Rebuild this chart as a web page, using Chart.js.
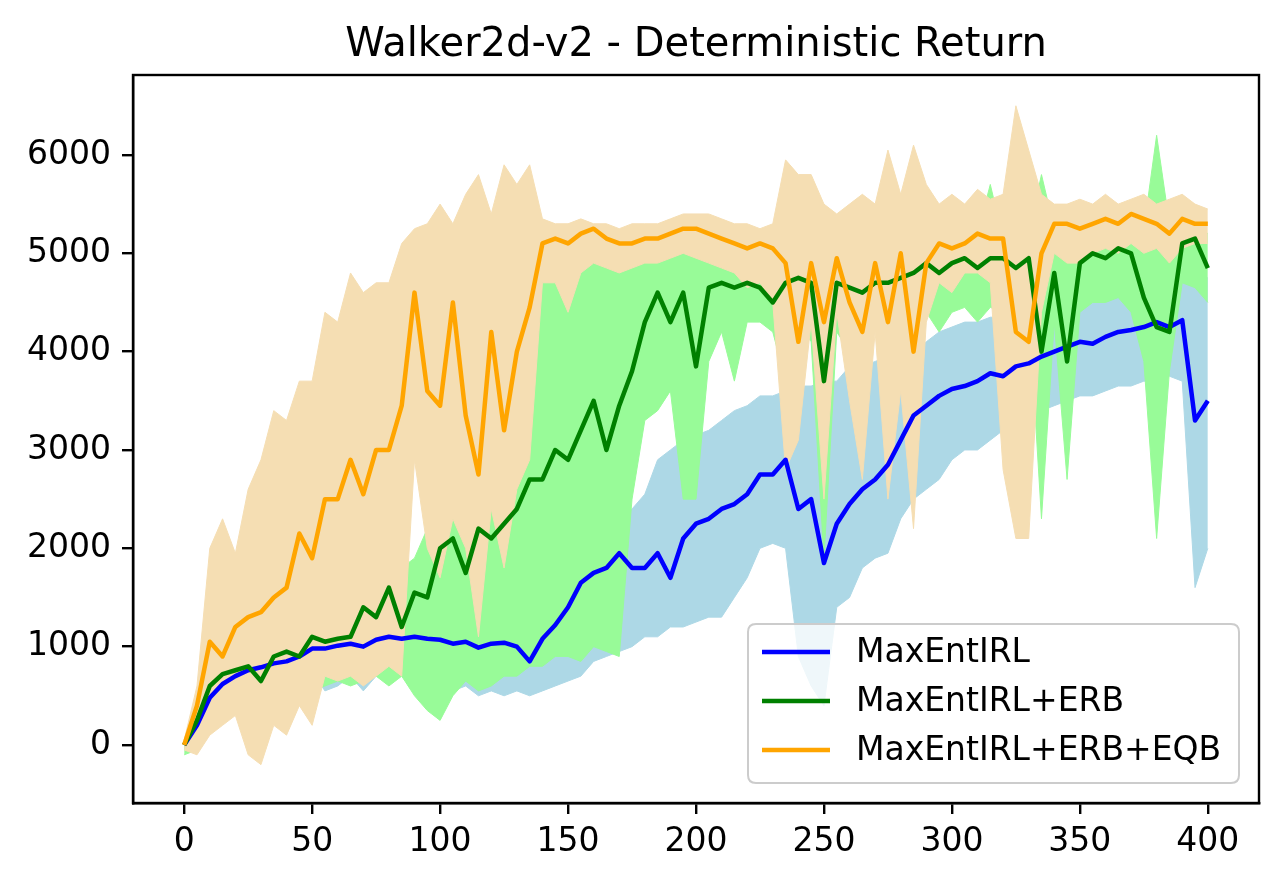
<!DOCTYPE html>
<html><head><meta charset="utf-8">
<script src="https://cdn.jsdelivr.net/npm/chart.js@4.4.1/dist/chart.umd.min.js"></script>
<style>html,body{margin:0;padding:0;background:#fff}#wrap{width:1280px;height:885px}</style>
</head><body><div id="wrap"><canvas id="c" width="1280" height="885"></canvas></div>
<script>
const chartTitle = 'Walker2d-v2 - Deterministic Return';
const seriesNames = ['MaxEntIRL', 'MaxEntIRL+ERB', 'MaxEntIRL+ERB+EQB'];
const xTicks = [0, 50, 100, 150, 200, 250, 300, 350, 400];
const yTicks = [0, 1000, 2000, 3000, 4000, 5000, 6000];
const steps = [0,5,10,15,20,25,30,35,40,45,50,55,60,65,70,75,80,85,90,95,100,105,110,115,120,125,130,135,140,145,150,155,160,165,170,175,180,185,190,195,200,205,210,215,220,225,230,235,240,245,250,255,260,265,270,275,280,285,290,295,300,305,310,315,320,325,330,335,340,345,350,355,360,365,370,375,380,385,390,395,400];

const blueMean = [0,200,480,620,700,760,790,830,850,900,
 980,980,1010,1030,1000,1070,1100,1080,1100,1080,
 1070,1030,1050,990,1030,1040,1000,850,1080,1220,
 1400,1650,1750,1800,1950,1800,1800,1950,1700,2100,
 2250,2300,2400,2450,2550,2750,2750,2900,2400,2500,
 1850,2250,2450,2600,2700,2850,3100,3350,3450,3550,
 3620,3650,3700,3780,3750,3850,3880,3950,4000,4050,
 4100,4080,4150,4200,4220,4250,4300,4250,4320,3300,
 3500];
const blueUpper = [0,300,600,750,800,850,900,950,950,1000,
 1050,1080,1100,1150,1150,1200,1200,1200,1250,1200,
 1250,1200,1250,1200,1250,1300,1300,1400,1500,1700,
 1800,2050,2150,2200,2250,2400,2550,2900,3000,3100,
 3150,3200,3300,3400,3450,3550,3550,3600,3650,3650,
 3700,3700,3850,3850,3900,3950,3950,4000,4100,4200,
 4250,4300,4300,4350,4350,4400,4400,4450,4500,4500,
 4550,4550,4600,4600,4650,4650,4700,4700,4750,4750,
 4750];
const blueLower = [-50,100,350,500,550,600,650,650,650,700,
 750,550,600,700,550,700,800,750,800,750,
 750,550,600,500,550,500,550,500,550,600,
 650,700,850,900,950,1000,1100,1100,1200,1200,
 1250,1300,1300,1500,1700,2000,2050,2000,900,600,
 400,1400,1500,1800,1900,1950,2300,2500,2600,2700,
 2900,3000,3000,3100,3200,3300,3300,3400,3450,3500,
 3550,3550,3600,3650,3650,3700,3700,3750,3700,1600,
 2000];

const greenMean = [0,250,600,720,760,800,650,900,950,900,
 1100,1050,1080,1100,1400,1300,1600,1200,1550,1500,
 2000,2100,1750,2200,2100,2250,2400,2700,2700,3000,
 2900,3200,3500,3000,3450,3800,4300,4600,4300,4600,
 3850,4650,4700,4650,4700,4650,4500,4700,4750,4700,
 3700,4700,4650,4600,4700,4700,4750,4800,4900,4800,
 4900,4950,4850,4950,4950,4850,4950,4000,4800,3900,
 4900,5000,4950,5050,5000,4550,4250,4200,5100,5150,
 4850];
const greenUpper = [50,350,750,850,900,950,950,1050,1100,1150,
 1250,1250,1300,1350,1500,1500,1700,1800,1900,2200,
 2600,2800,2900,3100,3300,3500,3800,4200,4900,5000,
 5100,5150,5200,5100,5150,5100,5100,5150,5100,5050,
 5100,5050,5100,5100,5100,5050,5000,5100,5000,5100,
 5500,5000,5050,5000,5050,5100,5050,5100,5150,5100,
 5200,5200,5200,5700,5150,5150,5200,5800,5250,5200,
 5300,5250,5300,5250,5300,5250,6200,5300,5250,5300,
 5200];
const greenLower = [-100,-50,200,300,350,300,400,450,500,500,
 550,600,650,600,650,700,600,700,500,350,
 250,500,650,550,600,700,700,800,800,900,
 900,850,1000,950,900,2500,3300,3400,3600,2500,
 2500,3900,4200,3700,4300,4300,4200,3700,4300,4100,
 1900,4200,4000,4100,4300,4200,4350,4300,4400,4200,
 4400,4450,4300,4450,4400,4300,4450,2300,4300,2700,
 4400,4500,4500,4550,4400,3900,2100,3800,4700,4650,
 4500];

const orangeMean = [0,400,1050,900,1200,1300,1350,1500,1600,2150,
 1900,2500,2500,2900,2550,3000,3000,3450,4600,3600,
 3450,4500,3350,2750,4200,3200,4000,4450,5100,5150,
 5100,5200,5250,5150,5100,5100,5150,5150,5200,5250,
 5250,5200,5150,5100,5050,5100,5050,4900,4100,4900,
 4300,4950,4500,4200,4900,4300,5000,4000,4900,5100,
 5050,5100,5200,5150,5150,4200,4100,5000,5300,5300,
 5250,5300,5350,5300,5400,5350,5300,5200,5350,5300,
 5300];
const orangeUpper = [50,600,2000,2300,1950,2600,2900,3400,3300,3700,
 3700,4400,4300,4800,4600,4700,4700,5100,5250,5300,
 5500,5300,5600,5800,5400,5900,5700,5900,5350,5300,
 5300,5350,5300,5300,5250,5300,5300,5300,5350,5400,
 5400,5400,5350,5300,5300,5250,5300,5950,5800,5800,
 5500,5400,5500,5600,5500,6050,5600,6100,5700,5500,
 5600,5500,5650,5550,5600,6500,6050,5600,5500,5500,
 5550,5500,5600,5500,5550,5600,5500,5550,5600,5500,
 5450];
const orangeLower = [-50,-100,100,200,300,-100,-200,200,100,400,
 200,700,650,700,600,700,800,700,2900,2000,
 1700,2300,2000,1100,2400,1800,2600,2900,4700,4700,
 4400,4800,4900,4850,4800,4850,4900,4900,4950,5000,
 4950,4900,4850,4800,4650,4700,4500,2800,3100,4300,
 2500,4400,3500,2700,4200,2500,3600,2200,4300,4700,
 4600,4800,4800,4700,2800,2100,2100,4400,5000,4900,
 4900,5000,5050,5000,5100,5000,5050,4900,5050,5100,
 5100];

const lineColors = ['#0000ff', '#008000', '#ffa500'];
const bandColors = ['#add8e6', '#98fb98', '#f5deb3'];

function pts(ys) { return steps.map((s, i) => ({ x: s, y: ys[i] })); }

const means = [blueMean, greenMean, orangeMean];
const uppers = [blueUpper, greenUpper, orangeUpper];
const lowers = [blueLower, greenLower, orangeLower];

const datasets = [];
for (let k = 0; k < 3; k++) {
  datasets.push({ label: seriesNames[k], data: pts(means[k]), borderColor: lineColors[k],
    borderWidth: 4.5, pointRadius: 0, tension: 0, fill: false, order: 2 - k,
    borderJoinStyle: 'round', borderCapStyle: 'butt' });
}
for (let k = 0; k < 3; k++) {
  const upIdx = datasets.length;
  datasets.push({ label: 'band_upper_' + k, data: pts(uppers[k]), borderColor: bandColors[k],
    borderWidth: 1, pointRadius: 0, tension: 0, fill: false, order: 12 - k });
  datasets.push({ label: 'band_lower_' + k, data: pts(lowers[k]), borderColor: bandColors[k],
    backgroundColor: bandColors[k], borderWidth: 1, pointRadius: 0, tension: 0,
    fill: { target: upIdx }, order: 12 - k });
}

const FONT = "'DejaVu Sans', 'Liberation Sans', sans-serif";

const decor = {
  id: 'decor',
  afterDatasetsDraw(chart) {
    const ctx = chart.ctx, a = chart.chartArea;
    ctx.save();
    ctx.strokeStyle = '#000'; ctx.lineWidth = 2.4;
    ctx.strokeRect(a.left, a.top, a.right - a.left, a.bottom - a.top);
    ctx.fillStyle = '#000';
    ctx.font = '40px ' + FONT;
    ctx.textAlign = 'center'; ctx.textBaseline = 'alphabetic';
    ctx.fillText(chartTitle, (a.left + a.right) / 2, 56);
    const lx = 748, ly = 624, lw = 491, lh = 159, r = 8;
    ctx.beginPath();
    ctx.moveTo(lx + r, ly); ctx.lineTo(lx + lw - r, ly); ctx.quadraticCurveTo(lx + lw, ly, lx + lw, ly + r);
    ctx.lineTo(lx + lw, ly + lh - r); ctx.quadraticCurveTo(lx + lw, ly + lh, lx + lw - r, ly + lh);
    ctx.lineTo(lx + r, ly + lh); ctx.quadraticCurveTo(lx, ly + lh, lx, ly + lh - r);
    ctx.lineTo(lx, ly + r); ctx.quadraticCurveTo(lx, ly, lx + r, ly); ctx.closePath();
    ctx.fillStyle = 'rgba(255,255,255,0.8)'; ctx.fill();
    ctx.strokeStyle = 'rgba(204,204,204,1)'; ctx.lineWidth = 2; ctx.stroke();
    ctx.font = '33px ' + FONT; ctx.textAlign = 'left'; ctx.textBaseline = 'middle';
    const rows = [652, 701, 750];
    for (let k = 0; k < 3; k++) {
      ctx.strokeStyle = lineColors[k]; ctx.lineWidth = 4.5;
      ctx.beginPath(); ctx.moveTo(762, rows[k]); ctx.lineTo(830, rows[k]); ctx.stroke();
      ctx.fillStyle = '#000';
      ctx.fillText(chart.data.datasets[k].label, 856, rows[k] + 1);
    }
    ctx.restore();
  }
};

new Chart(document.getElementById('c'), {
  type: 'line',
  data: { datasets },
  options: {
    responsive: false, animation: false, devicePixelRatio: 1,
    layout: { padding: { top: 75, right: 21, bottom: 0, left: 0 } },
    plugins: { legend: { display: false }, tooltip: { enabled: false }, title: { display: false } },
    scales: {
      x: {
        type: 'linear', min: -20, max: 420,
        afterBuildTicks: s => { s.ticks = xTicks.map(v => ({ value: v })); },
        afterFit: s => { s.height = 82; },
        grid: { display: true, drawOnChartArea: false, drawTicks: true, tickLength: 11, lineWidth: 2.4, tickWidth: 2.4, tickColor: '#000' },
        border: { display: true, color: '#000', width: 2.4 },
        ticks: { color: '#000', font: { family: FONT, size: 33 }, padding: 9, maxRotation: 0, autoSkip: false, callback: v => String(v) }
      },
      y: {
        type: 'linear', min: -590, max: 6813,
        afterBuildTicks: s => { s.ticks = yTicks.map(v => ({ value: v })); },
        afterFit: s => { s.width = 133; },
        grid: { display: true, drawOnChartArea: false, drawTicks: true, tickLength: 11, lineWidth: 2.4, tickWidth: 2.4, tickColor: '#000' },
        border: { display: true, color: '#000', width: 2.4 },
        ticks: { color: '#000', font: { family: FONT, size: 33 }, padding: 11, autoSkip: false, callback: v => String(v) }
      }
    }
  },
  plugins: [decor]
});
</script>
</body></html>
